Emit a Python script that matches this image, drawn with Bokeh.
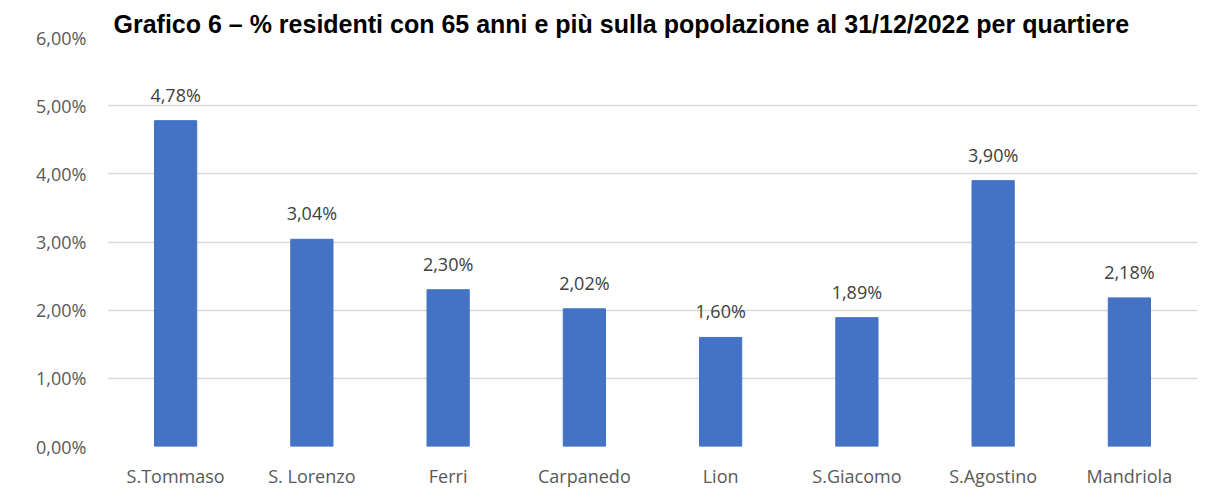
from bokeh.plotting import figure
from bokeh.models import ColumnDataSource, CustomJSTickFormatter, FixedTicker, Range1d
from bokeh.core.properties import value
from bokeh.embed import file_html
from bokeh.resources import INLINE

quartieri = ["S.Tommaso", "S. Lorenzo", "Ferri", "Carpanedo", "Lion", "S.Giacomo", "S.Agostino", "Mandriola"]
valori = [0.0478, 0.0304, 0.0230, 0.0202, 0.0160, 0.0189, 0.0390, 0.0218]
etichette = ["4,78%", "3,04%", "2,30%", "2,02%", "1,60%", "1,89%", "3,90%", "2,18%"]
y_ticks = [0.0, 0.01, 0.02, 0.03, 0.04, 0.05, 0.06]
titolo = "Grafico 6 – % residenti con 65 anni e più sulla popolazione al 31/12/2022 per quartiere"

FONT = "Open Sans"
W, H = 1205, 495

src = ColumnDataSource(dict(x=quartieri, top=valori, label=etichette))

p = figure(x_range=quartieri, y_range=Range1d(0, 0.06), width=W, height=H,
           output_backend="svg", toolbar_location=None, title=titolo,
           min_border_left=107, min_border_right=8, min_border_top=37, min_border_bottom=49)

p.title.text_font = "Liberation Sans"
p.title.text_font_style = "bold"
p.title.text_font_size = "25px"
p.title.text_color = "#000000"
p.title.align = "left"
p.title.offset = 6
p.title.standoff = 0

p.vbar(x="x", top="top", width=0.31, source=src, color="#4472C4")
p.text(x="x", y="top", text="label", source=src, text_align="center",
       text_baseline="bottom", y_offset=-14, text_font=value(FONT),
       text_font_size="18px", text_color="#404040")

p.outline_line_color = None
p.xgrid.grid_line_color = None
p.ygrid.grid_line_color = "#d9d9d9"
p.ygrid.grid_line_width = 1.5

p.yaxis.ticker = FixedTicker(ticks=y_ticks)
p.yaxis.formatter = CustomJSTickFormatter(code="return (tick*100).toFixed(2).replace('.', ',') + '%';")
for ax in (p.xaxis, p.yaxis):
    ax.axis_line_color = None
    ax.major_tick_line_color = None
    ax.minor_tick_line_color = None
    ax.major_label_text_font = FONT
    ax.major_label_text_font_size = "18px"
    ax.major_label_text_color = "#595959"
p.yaxis.major_label_standoff = 15
p.xaxis.major_label_standoff = 11

open("out.html", "w").write(file_html(p, INLINE))
